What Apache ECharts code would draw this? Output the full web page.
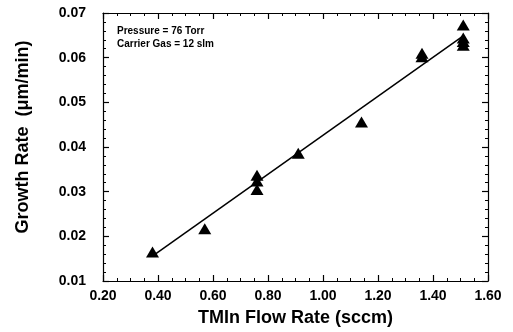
<!DOCTYPE html>
<html>
<head>
<meta charset="utf-8">
<script src="https://cdn.jsdelivr.net/npm/echarts@6/dist/echarts.min.js"></script>
<style>
  html, body { margin: 0; padding: 0; background: #fff; }
  #chart { width: 513px; height: 332px; }
</style>
</head>
<body>
<div id="chart"></div>
<script>
// Measured growth rate vs. TMIn flow
const flowRate = [0.38, 0.57, 0.76, 0.76, 0.76, 0.91, 1.14, 1.36, 1.36, 1.51, 1.51, 1.51, 1.51];
const growthRate = [0.0165, 0.0217, 0.0337, 0.0324, 0.0305, 0.0386, 0.0456, 0.0610, 0.0602, 0.0673, 0.0644, 0.0636, 0.0628];

// Linear fit end points
const fitFlow = [0.39, 1.51];
const fitGrowth = [0.0160, 0.0649];

// Axis ticks
const xTicks = ['0.20', '0.40', '0.60', '0.80', '1.00', '1.20', '1.40', '1.60'];
const yTicks = ['0.01', '0.02', '0.03', '0.04', '0.05', '0.06', '0.07'];

const noteLines = ['Pressure = 76 Torr', 'Carrier Gas = 12 slm'];

const FONT = '"Liberation Sans", Arial, Helvetica, sans-serif';
const xMin = parseFloat(xTicks[0]), xMax = parseFloat(xTicks[xTicks.length - 1]);
const yMin = parseFloat(yTicks[0]), yMax = parseFloat(yTicks[yTicks.length - 1]);

const points = flowRate.map((x, i) => [x, growthRate[i]]);
const fitLine = fitFlow.map((x, i) => [x, fitGrowth[i]]);

function frame(isX, pos, showLabels) {
  return {
    type: 'value',
    position: pos,
    min: isX ? xMin : yMin,
    max: isX ? xMax : yMax,
    interval: isX ? 0.2 : 0.01,
    axisLine: { show: true, onZero: false, lineStyle: { color: '#000', width: 1.2 } },
    axisTick: { show: true, inside: true, length: 6, lineStyle: { color: '#000', width: 1.2 } },
    minorTick: { show: true, splitNumber: isX ? 4 : 5, length: 3, lineStyle: { color: '#000', width: 1 } },
    splitLine: { show: false },
    axisLabel: {
      show: showLabels,
      color: '#000',
      fontFamily: FONT,
      fontWeight: 'bold',
      fontSize: 14,
      margin: isX ? 8 : 17,
      formatter: v => v.toFixed(2)
    }
  };
}

const chart = echarts.init(document.getElementById('chart'), null, { renderer: 'canvas' });

const xBottom = Object.assign(frame(true, 'bottom', true), {
  name: 'TMIn Flow Rate (sccm)',
  nameLocation: 'middle',
  nameGap: 28,
  nameTextStyle: { color: '#000', fontFamily: FONT, fontWeight: 'bold', fontSize: 18 }
});
const yLeft = Object.assign(frame(false, 'left', true), {
  name: 'Growth Rate  (μm/min)',
  nameLocation: 'middle',
  nameRotate: 90,
  nameGap: 71,
  nameTextStyle: { color: '#000', fontFamily: FONT, fontWeight: 'bold', fontSize: 18, padding: [0, 0, 0, 20] }
});

chart.setOption({
  animation: false,
  backgroundColor: '#fff',
  grid: { left: 103, right: 25, top: 13, bottom: 50 },
  xAxis: [xBottom, frame(true, 'top', false)],
  yAxis: [yLeft, frame(false, 'right', false)],
  graphic: [{
    type: 'text',
    left: 117,
    top: 25,
    style: {
      text: noteLines.join('\n'),
      fill: '#000',
      font: 'bold 10px ' + FONT,
      lineHeight: 12.5
    }
  }],
  series: [
    {
      type: 'line',
      data: fitLine,
      showSymbol: false,
      lineStyle: { color: '#000', width: 1.5 },
      z: 2
    },
    {
      type: 'scatter',
      data: points,
      symbol: 'triangle',
      symbolSize: [13, 11],
      itemStyle: { color: '#000', opacity: 1 },
      z: 3
    }
  ]
});
</script>
</body>
</html>
